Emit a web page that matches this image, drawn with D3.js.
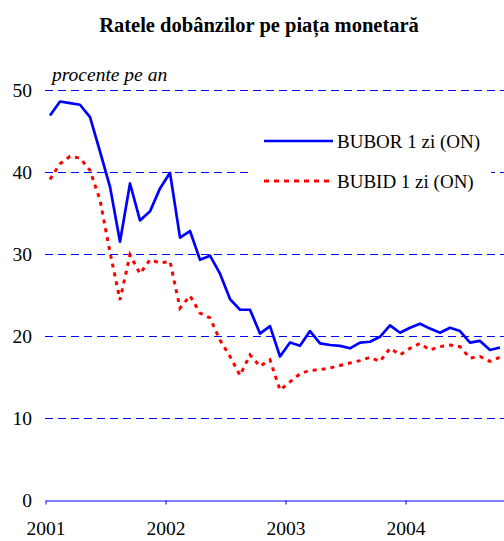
<html>
<head>
<script src="https://cdnjs.cloudflare.com/ajax/libs/d3/7.8.5/d3.min.js"></script>
</head>
<body style="margin:0">
<script type="text/javascript">
  // monthly values, Jan 2001 - Oct 2004 (percent per year)
  var bubor = [46.9, 48.6, 48.4, 48.2, 46.7, 42.5, 38.2, 31.5, 38.6, 34.1, 35.2, 38.0,
               39.9, 32.0, 32.8, 29.3, 29.8, 27.6, 24.5, 23.2, 23.2, 20.3, 21.2, 17.5,
               19.2, 18.8, 20.6, 19.1, 18.9, 18.8, 18.5, 19.2, 19.3, 19.9, 21.3, 20.4,
               21.0, 21.5, 20.9, 20.4, 21.0, 20.6, 19.2, 19.4, 18.3, 18.6];
  var bubid = [39.1, 41.0, 41.9, 41.7, 40.2, 36.6, 30.2, 24.4, 29.9, 27.6, 29.3, 28.9,
               29.1, 23.4, 24.9, 22.8, 22.2, 19.5, 17.5, 15.2, 17.7, 16.3, 17.1, 13.4,
               14.4, 15.4, 15.8, 15.9, 16.1, 16.4, 16.7, 17.0, 17.4, 16.9, 18.5, 17.7,
               18.5, 19.1, 18.3, 18.7, 18.9, 18.7, 17.3, 17.5, 16.9, 17.4];
  var years = ["2001", "2002", "2003", "2004"];
  var yTicks = [0, 10, 20, 30, 40, 50];
  var seriesNames = ["BUBOR 1 zi (ON)", "BUBID 1 zi (ON)"];

  var width = 504, height = 541;
  function font(size, extra) {
    return "font-family:Liberation Serif;font-size:" + size + "px;" + (extra || "");
  }
  var svg = d3.select("body").append("svg")
      .attr("width", width)
      .attr("height", height)
      .style("display", "block");

  // one band per month, ticks on year boundaries
  var x = d3.scaleLinear().domain([0, 48]).range([45, 525]);
  var y = d3.scaleLinear().domain([0, 50]).range([500, 90]);

  // title
  svg.append("text")
      .attr("x", 259).attr("y", 32)
      .attr("text-anchor", "middle")
      .attr("style", font(20.5, "font-weight:bold"))
      .text("Ratele dobânzilor pe piața monetară");

  // dashed grid
  svg.selectAll("line.grid")
      .data(yTicks.filter(function(d){ return d > 0; }))
      .enter().append("line")
      .attr("class", "grid")
      .attr("x1", x(0)).attr("x2", width)
      .attr("y1", function(d){ return y(d) + 0.5; })
      .attr("y2", function(d){ return y(d) + 0.5; })
      .attr("stroke", "#0000ff").attr("stroke-width", 1)
      .attr("stroke-dasharray", "8,5");

  // y labels
  svg.selectAll("text.ylab")
      .data(yTicks)
      .enter().append("text")
      .attr("class", "ylab")
      .attr("x", 32)
      .attr("y", function(d){ return y(d); })
      .attr("dy", ".35em")
      .attr("text-anchor", "end")
      .attr("style", font(19.5))
      .text(function(d){ return d; });

  svg.append("text")
      .attr("x", 52).attr("y", 81)
      .attr("style", font(19.5, "font-style:italic"))
      .text("procente pe an");

  // x axis
  var xAxis = d3.axisBottom(x)
      .tickValues(d3.range(0, 37, 12))
      .tickSize(4)
      .tickSizeOuter(0)
      .tickFormat(function(d){ return years[d / 12]; });
  var gx = svg.append("g")
      .attr("transform", "translate(0.5," + (y(0) + 0.5) + ")")
      .call(xAxis);
  gx.select(".domain").attr("stroke", "#0000ff").attr("stroke-width", 1);
  gx.selectAll(".tick line").attr("stroke", "#0000ff");
  gx.selectAll(".tick text")
      .attr("style", font(19.5))
      .attr("fill", "#000")
      .attr("y", 21);

  // legend box covers the grid
  svg.append("rect")
      .attr("x", 253).attr("y", 118)
      .attr("width", 238).attr("height", 84)
      .attr("fill", "#fff");

  var line = d3.line()
      .x(function(d, i){ return x(i + 0.5); })
      .y(function(d){ return y(d); });

  svg.append("path")
      .datum(bubid)
      .attr("d", line)
      .attr("fill", "none")
      .attr("stroke", "#ff0000").attr("stroke-width", 3)
      .attr("stroke-dasharray", "4,5");

  svg.append("path")
      .datum(bubor)
      .attr("d", line)
      .attr("fill", "none")
      .attr("stroke", "#0000ff").attr("stroke-width", 2.7)
      .attr("stroke-linejoin", "round");

  // legend
  var leg = [{name: seriesNames[0], color: "#0000ff", dash: null, w: 2.7, y: 141},
             {name: seriesNames[1], color: "#ff0000", dash: "5,5", w: 3, y: 181}];
  var lg = svg.selectAll("g.leg").data(leg).enter().append("g").attr("class", "leg");
  lg.append("line")
      .attr("x1", 264).attr("x2", 333)
      .attr("y1", function(d){ return d.y; }).attr("y2", function(d){ return d.y; })
      .attr("stroke", function(d){ return d.color; })
      .attr("stroke-width", function(d){ return d.w; })
      .attr("stroke-dasharray", function(d){ return d.dash; });
  lg.append("text")
      .attr("x", 337)
      .attr("y", function(d){ return d.y; })
      .attr("dy", ".35em")
      .attr("style", font(19))
      .text(function(d){ return d.name; });
</script>
</body>
</html>
